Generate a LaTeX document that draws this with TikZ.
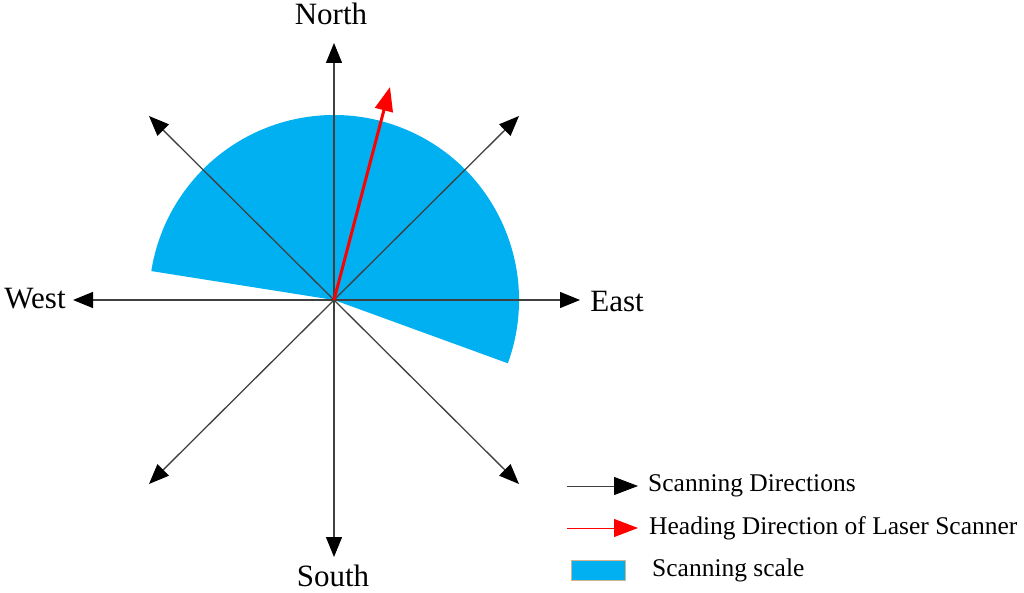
\documentclass[tikz,border=0pt]{standalone}
\usepackage{fontspec}
\setmainfont{Liberation Serif}
\usetikzlibrary{arrows.meta,calc}
\definecolor{scanblue}{HTML}{00B0F0}
\definecolor{axisgray}{HTML}{404040}
\definecolor{tanborder}{HTML}{D2B48C}
\tikzset{
  dirarrow/.style={draw=axisgray, line width=1.3pt, -{Triangle[length=20pt,width=16pt,fill=black,color=black]}},
  headarrow/.style={draw=red, line width=3pt, -{Triangle[length=24pt,width=18pt,fill=red,color=red]}},
  legdir/.style={draw=axisgray, line width=1pt, -{Triangle[length=24pt,width=18pt,fill=black,color=black]}},
  leghead/.style={draw=red, line width=1pt, -{Triangle[length=24pt,width=18pt,fill=red,color=red]}},
  compass/.style={font=\fontsize{31}{36}\selectfont, inner sep=0pt},
  legtext/.style={font=\fontsize{25.5}{30}\selectfont, anchor=west, inner sep=0pt},
}
\begin{document}
\begin{tikzpicture}[x=1pt,y=1pt]
\useasboundingbox (0,0) rectangle (1024,592);
\coordinate (C) at (334,292);
% sector
\fill[scanblue] (C) -- ($(C)+(-20:185)$) arc[start angle=-20, end angle=171, radius=185pt] -- cycle;
% tips
\coordinate (Nt) at (334,549);
\coordinate (St) at (334,35);
\coordinate (Wt) at (73,292);
\coordinate (Et) at (580,292);
\coordinate (NEt) at (519,476);
\coordinate (NWt) at (149,476);
\coordinate (SWt) at (149,108);
\coordinate (SEt) at (519,108);
\foreach \t in {Nt,St,Wt,Et,NEt,NWt,SWt,SEt} \draw[dirarrow] (C) -- (\t);
% heading
\coordinate (Ht) at (390,505);
\draw[headarrow] (C) -- (Ht);
% labels
\node[compass] (north) at (331,578) {North};
\node[compass] (south) at (333,16) {South};
\node[compass] (west) at (35,293) {West};
\node[compass] (east) at (617,290) {East};
% legend
\coordinate (l1a) at (567,106); \coordinate (l1b) at (638,106);
\draw[legdir] (l1a) -- (l1b);
\node[legtext] (t1) at (648,106) {Scanning Directions};
\coordinate (l2a) at (567,64); \coordinate (l2b) at (638,64);
\draw[leghead] (l2a) -- (l2b);
\node[legtext] (t2) at (649,64) {Heading Direction of Laser Scanner};
\node[draw=tanborder, fill=scanblue, line width=0.8pt, minimum width=54pt, minimum height=20pt, inner sep=0pt] (box) at (598,22) {};
\node[legtext] (t3) at (652,22) {Scanning scale};
\end{tikzpicture}
\end{document}
